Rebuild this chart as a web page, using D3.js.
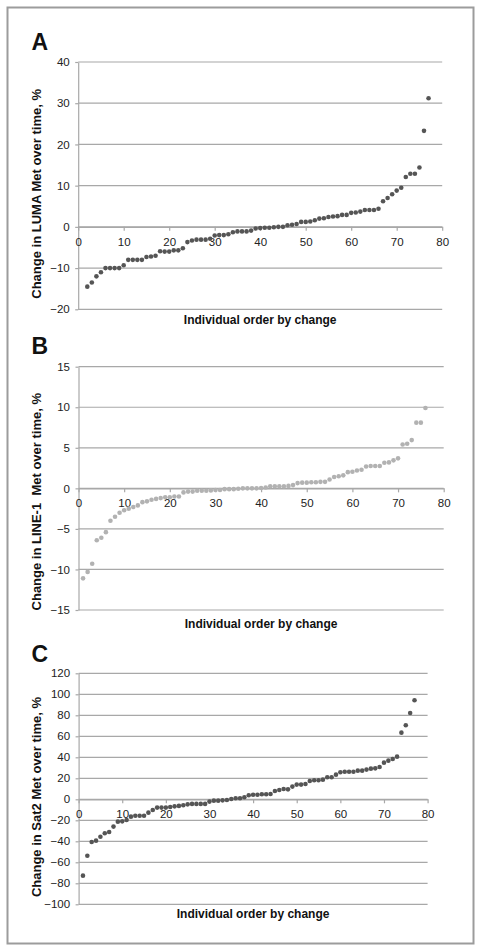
<!DOCTYPE html>
<html><head><meta charset="utf-8">
<script src="https://cdn.jsdelivr.net/npm/d3@7"></script>
<style>
html,body{margin:0;padding:0;background:#fff;}
svg{display:block;font-family:"Liberation Sans",Arial,Helvetica,sans-serif;}
</style></head>
<body><svg id="chart" width="481" height="951"></svg>
<script>
// ---------- DATA ----------
const xTicks = [0, 10, 20, 30, 40, 50, 60, 70, 80];

// Panel A: LUMA (individuals ordered 2..77)
const lumaFirstOrder = 2;
const lumaValues = [-14.5, -13.5, -12.0, -11.0, -10.0, -10.0, -10.0, -10.0, -9.3, -8.0,
  -8.0, -8.0, -8.0, -7.3, -7.2, -7.0, -5.9, -6.0, -6.0, -5.7,
  -5.7, -5.2, -3.7, -3.3, -3.1, -3.1, -3.1, -2.9, -2.1, -2.0,
  -2.0, -1.8, -1.3, -1.1, -1.1, -1.1, -0.9, -0.4, -0.3, -0.2,
  -0.2, -0.1, 0.0, 0.0, 0.4, 0.5, 0.7, 1.2, 1.2, 1.3,
  1.6, 2.0, 2.1, 2.4, 2.5, 2.6, 2.9, 2.9, 3.4, 3.5,
  3.7, 4.1, 4.1, 4.1, 4.4, 6.2, 7.0, 7.9, 8.8, 9.5,
  12.1, 12.9, 12.9, 14.4, 23.3, 31.2];
const lumaYTicks = [-20, -10, 0, 10, 20, 30, 40];

// Panel B: LINE-1 (individuals ordered 1..76)
const line1FirstOrder = 1;
const line1Values = [-11.1, -10.3, -9.3, -6.4, -6.1, -5.4, -4.0, -3.5, -3.0, -2.7,
  -2.5, -2.3, -2.1, -1.7, -1.6, -1.4, -1.3, -1.2, -1.1, -1.1,
  -1.0, -1.0, -0.5, -0.4, -0.4, -0.3, -0.3, -0.3, -0.25, -0.2,
  -0.2, -0.1, -0.1, -0.1, -0.05, 0.0, 0.0, 0.0, 0.0, 0.05,
  0.1, 0.25, 0.25, 0.25, 0.25, 0.3, 0.4, 0.65, 0.7, 0.7,
  0.75, 0.75, 0.8, 0.8, 1.1, 1.4, 1.5, 1.6, 2.0, 2.05,
  2.2, 2.3, 2.7, 2.75, 2.75, 2.75, 3.15, 3.2, 3.45, 3.7,
  5.4, 5.5, 5.95, 8.1, 8.1, 9.9];
const line1YTicks = [-15, -10, -5, 0, 5, 10, 15];

// Panel C: Sat2 (individuals ordered 1..77)
const sat2FirstOrder = 1;
const sat2Values = [-72.7, -53.7, -40.6, -39.4, -35.6, -32.4, -31.1, -26.0, -21.3, -21.0,
  -19.7, -16.5, -15.6, -15.6, -15.6, -12.7, -10.2, -7.9, -7.9, -7.9,
  -7.3, -6.7, -6.3, -5.7, -4.8, -4.4, -4.4, -4.4, -4.4, -2.2,
  -1.3, -1.3, -1.0, -0.6, 0.3, 1.0, 1.0, 1.9, 3.8, 4.4,
  4.4, 4.8, 4.8, 5.1, 7.9, 8.9, 9.8, 9.5, 12.1, 14.0,
  14.0, 14.6, 17.5, 18.1, 18.1, 18.7, 21.0, 21.0, 23.5, 25.7,
  26.3, 26.3, 26.3, 27.3, 27.3, 28.3, 29.2, 29.5, 30.8, 34.9,
  36.8, 38.4, 40.6, 63.5, 70.5, 82.2, 94.3];
const sat2YTicks = [-100, -80, -60, -40, -20, 0, 20, 40, 60, 80, 100, 120];

const panelLetters = ["A", "B", "C"];
const yTitles = ["Change in LUMA Met over time, %", "Change in LINE-1  Met over time, %", "Change in Sat2 Met over time, %"];
const xTitle = "Individual order by change";

// ---------- LAYOUT ----------
const svg = d3.select("#chart");
svg.append("rect").attr("x", 7.5).attr("y", 7.5).attr("width", 466).attr("height", 936)
  .attr("fill", "none").attr("stroke", "#9c9c9c").attr("stroke-width", 2);

const panels = [
  {letter: panelLetters[0], values: lumaValues, first: lumaFirstOrder, yTicks: lumaYTicks,
   yDom: [-20, 40], xRange: [78.2, 442.2], yRange: [309.3, 62], color: "#555555",
   letterY: 50, yTitle: yTitles[0], yTitleEnd: 89, xTitleY: 323.8},
  {letter: panelLetters[1], values: line1Values, first: line1FirstOrder, yTicks: line1YTicks,
   yDom: [-15, 15], xRange: [78.5, 443.7], yRange: [610, 366.7], color: "#b2b2b2",
   letterY: 354, yTitle: yTitles[1], yTitleEnd: 393, xTitleY: 627.6},
  {letter: panelLetters[2], values: sat2Values, first: sat2FirstOrder, yTicks: sat2YTicks,
   yDom: [-100, 120], xRange: [78.6, 427.6], yRange: [904.3, 673.3], color: "#555555",
   letterY: 662, yTitle: yTitles[2], yTitleEnd: 697, xTitleY: 917.8}
];

const gridColor = "#a8a8a8";
const textColor = "#222";

panels.forEach(p => {
  const x = d3.scaleLinear().domain([0, 80]).range(p.xRange);
  const y = d3.scaleLinear().domain(p.yDom).range(p.yRange);
  const g = svg.append("g");

  // gridlines
  g.append("g").selectAll("line").data(p.yTicks).join("line")
    .attr("x1", p.xRange[0]).attr("x2", p.xRange[1])
    .attr("y1", d => y(d)).attr("y2", d => y(d))
    .attr("stroke", gridColor).attr("stroke-width", 1.2);

  // y axis
  const ya = g.append("g").attr("transform", `translate(${p.xRange[0]},0)`)
    .call(d3.axisLeft(y).tickValues(p.yTicks).tickSize(3).tickSizeOuter(0).tickPadding(5.5)
      .tickFormat(d3.format("d")));
  ya.select(".domain").attr("stroke", gridColor).attr("stroke-width", 1.2);
  ya.selectAll(".tick line").attr("stroke", gridColor).attr("stroke-width", 1.2);
  ya.selectAll(".tick text").attr("fill", textColor).style("font-size", "11.5px");

  // x axis at y = 0
  const xa = g.append("g").attr("transform", `translate(0,${y(0)})`)
    .call(d3.axisBottom(x).tickValues(xTicks).tickSize(4).tickSizeOuter(0).tickPadding(6.5));
  xa.select(".domain").attr("stroke", gridColor).attr("stroke-width", 1.2);
  xa.selectAll(".tick line").attr("stroke", gridColor).attr("stroke-width", 1.2);
  xa.selectAll(".tick text").attr("fill", textColor).style("font-size", "11.5px");

  // points
  g.append("g").selectAll("circle").data(p.values).join("circle")
    .attr("cx", (d, i) => x(i + p.first))
    .attr("cy", d => y(d))
    .attr("r", 2.3)
    .attr("fill", p.color);

  // panel letter
  g.append("text").attr("x", 31.5).attr("y", p.letterY).text(p.letter)
    .style("font-size", "23px").style("font-weight", "bold").attr("fill", "#111");

  // y title
  g.append("text").attr("transform", `translate(41,${p.yTitleEnd}) rotate(-90)`)
    .attr("text-anchor", "end").text(p.yTitle)
    .style("font-size", "13px").style("font-weight", "bold").attr("fill", "#111")
    .attr("xml:space", "preserve").style("white-space", "pre");

  // x title
  g.append("text").attr("x", (p.xRange[0] + p.xRange[1]) / 2).attr("y", p.xTitleY)
    .attr("text-anchor", "middle").text(xTitle)
    .style("font-size", "12px").style("font-weight", "bold").attr("fill", "#111");
});
</script></body></html>
